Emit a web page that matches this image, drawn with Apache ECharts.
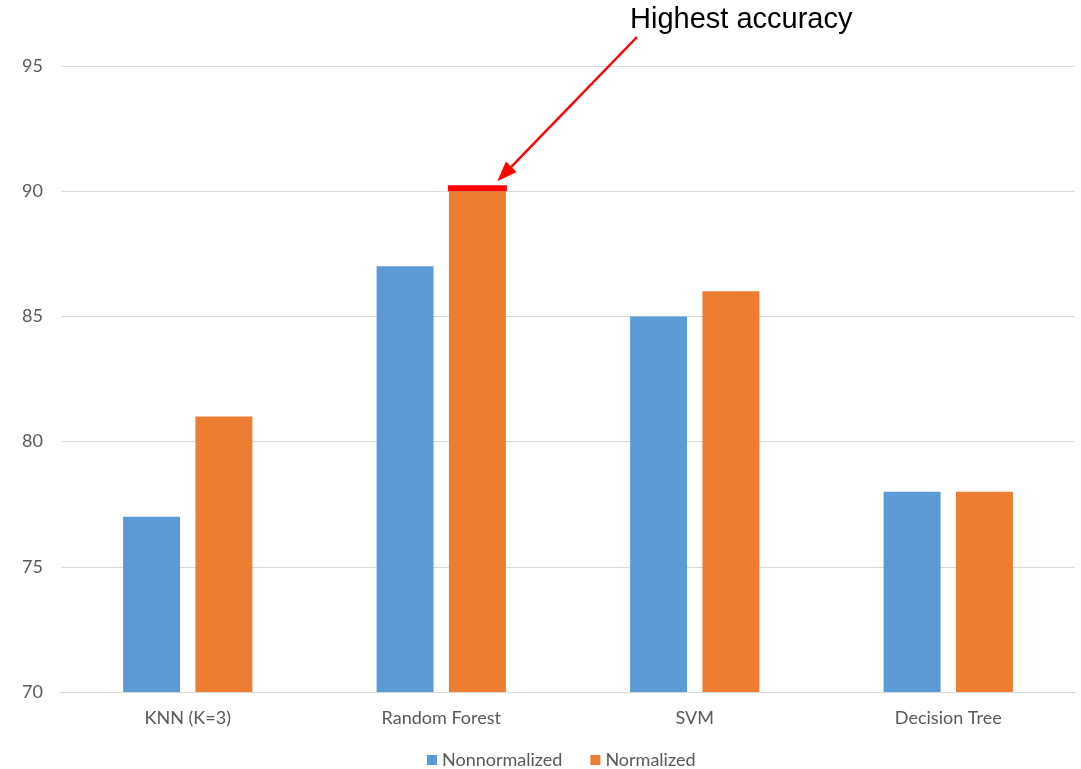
<!DOCTYPE html>
<html>
<head>
<meta charset="utf-8">
<script src="https://cdn.jsdelivr.net/npm/echarts@6/dist/echarts.min.js"></script>
<style>
  html, body { margin: 0; padding: 0; background: #fff; }
  #chart { width: 1081px; height: 769px; }
</style>
</head>
<body>
<div id="chart"></div>
<script>
// Classifier accuracy, with and without feature normalization
const categories = ['KNN (K=3)', 'Random Forest', 'SVM', 'Decision Tree'];
const nonnormalized = [77, 87, 85, 78];
const normalized = [81, 90, 86, 78];
const seriesNames = ['Nonnormalized', 'Normalized'];
const calloutText = 'Highest accuracy';

const labelFont = 'Lato, "Open Sans", "Noto Sans", sans-serif';
const chart = echarts.init(document.getElementById('chart'));

chart.setOption({
  animation: false,
  backgroundColor: '#ffffff',
  color: ['#5B9BD5', '#ED7D31'],
  grid: { left: 61, right: 6, top: 66, bottom: 77, containLabel: false },
  legend: {
    data: seriesNames,
    top: 746,
    left: 422,
    icon: 'rect',
    itemWidth: 10,
    itemHeight: 10,
    itemGap: 28,
    textStyle: { color: '#595959', fontSize: 18, fontFamily: labelFont }
  },
  xAxis: {
    type: 'category',
    data: categories,
    axisTick: { show: false },
    axisLine: { lineStyle: { color: '#d9d9d9', width: 1 } },
    axisLabel: { color: '#595959', fontSize: 18, fontFamily: labelFont, margin: 17 }
  },
  yAxis: {
    type: 'value',
    min: 70,
    max: 95,
    interval: 5,
    axisLine: { show: false },
    axisTick: { show: false },
    splitLine: { lineStyle: { color: '#d9d9d9', width: 1 } },
    axisLabel: { color: '#595959', fontSize: 18, fontFamily: labelFont, margin: 18 }
  },
  series: [
    {
      name: seriesNames[0],
      type: 'bar',
      data: nonnormalized,
      barGap: '27%',
      barCategoryGap: '49%'
    },
    {
      name: seriesNames[1],
      type: 'bar',
      data: normalized,
      barGap: '27%',
      barCategoryGap: '49%'
    }
  ]
});

// Highlight the best bar with a red cap and an annotated arrow
function drawCallout() {
  let best = 0;
  normalized.forEach((v, i) => { if (v > normalized[best]) best = i; });
  const layout = chart.getModel().getSeriesByIndex(1).getData().getItemLayout(best);
  const x0 = layout.x;
  const w = layout.width;
  const top = layout.y + Math.min(0, layout.height);

  const tipX = x0 + w * 0.85;
  const tipY = top - 10;
  const startX = 637, startY = 37;
  const ang = Math.atan2(tipY - startY, tipX - startX);
  const headLen = 20, headHalf = 7.5;
  const bx = tipX - headLen * Math.cos(ang);
  const by = tipY - headLen * Math.sin(ang);
  const px = -Math.sin(ang), py = Math.cos(ang);

  chart.setOption({
    graphic: [
      {
        type: 'rect',
        shape: { x: x0 - 1, y: top - 6, width: w + 2, height: 6 },
        style: { fill: '#ff0000' },
        z: 100
      },
      {
        type: 'line',
        shape: { x1: startX, y1: startY, x2: bx, y2: by },
        style: { stroke: '#ff0000', lineWidth: 2.5 },
        z: 100
      },
      {
        type: 'polygon',
        shape: { points: [[tipX, tipY], [bx + px * headHalf, by + py * headHalf], [bx - px * headHalf, by - py * headHalf]] },
        style: { fill: '#ff0000' },
        z: 100
      },
      {
        type: 'text',
        left: 630,
        top: 5,
        style: {
          text: calloutText,
          fill: '#000000',
          fontSize: 29,
          fontFamily: '"Liberation Sans", Arial, sans-serif'
        },
        z: 100
      }
    ]
  });
}
drawCallout();
</script>
</body>
</html>
